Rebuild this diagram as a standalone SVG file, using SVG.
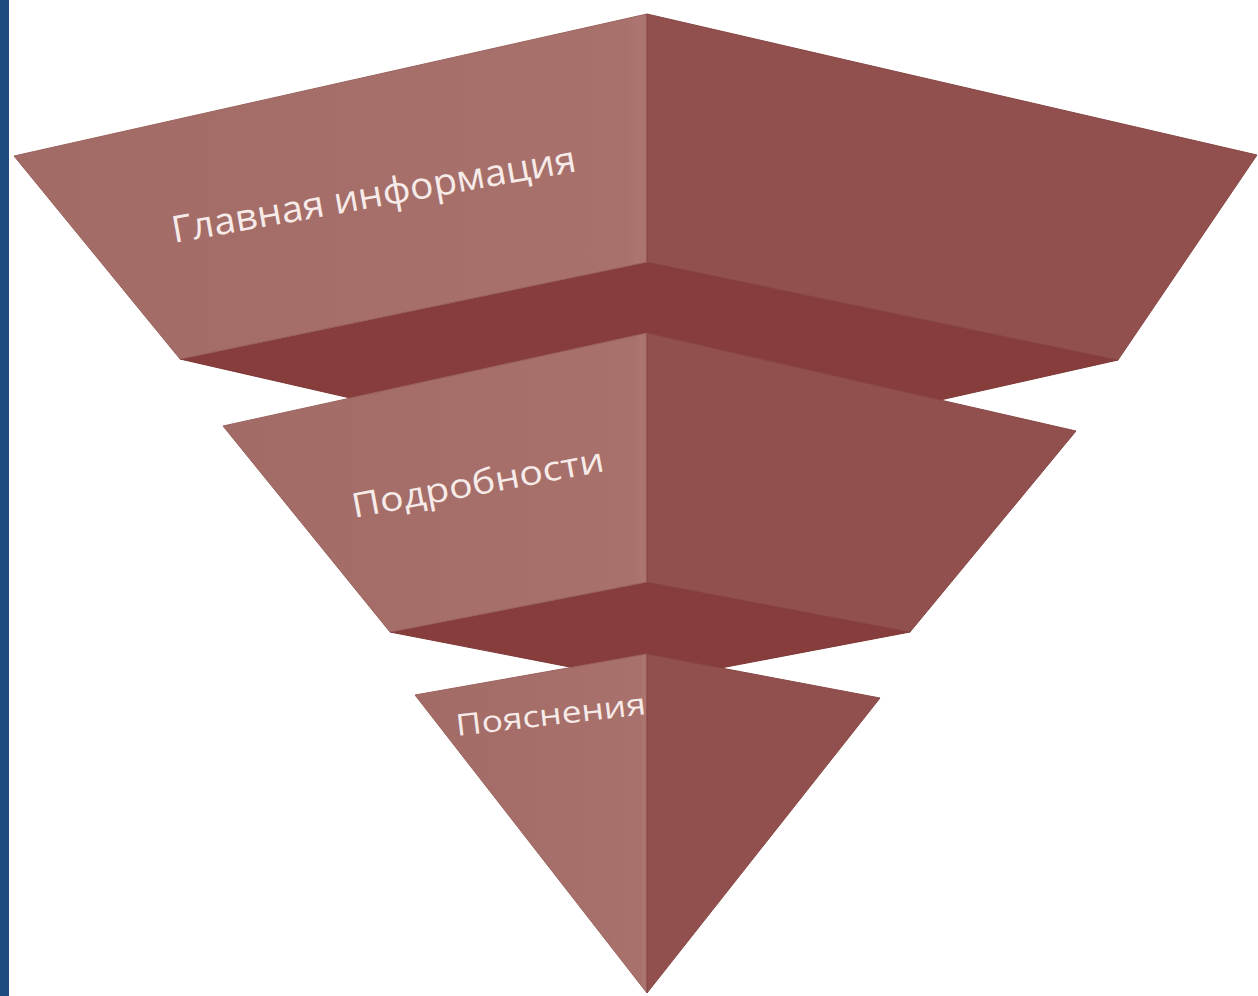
<svg xmlns="http://www.w3.org/2000/svg" width="1258" height="996" viewBox="0 0 1258 996">
  <defs>
    <style>
      .lf { fill: url(#lg); stroke: #9a625d; stroke-width: 1; stroke-linejoin: round; }
      .rf { fill: #91504d; stroke: #874744; stroke-width: 1; stroke-linejoin: round; }
      .db { fill: #873d3b; stroke: #7d3735; stroke-width: 1; stroke-linejoin: round; }
      .lbl { font-family: "Open Sans", "Noto Sans", "DejaVu Sans", sans-serif; fill: #f7ebe9; }
    </style>
    <linearGradient id="lg" x1="0" y1="0" x2="1" y2="0">
      <stop offset="0" stop-color="#a26b65"/>
      <stop offset="0.97" stop-color="#a8716b"/>
      <stop offset="0.985" stop-color="#ac756f"/>
      <stop offset="1" stop-color="#aa736d"/>
    </linearGradient>
  </defs>
  <rect x="0" y="0" width="1258" height="996" fill="#ffffff"/>
  <rect x="0" y="0" width="9" height="996" fill="#1d4a7f"/>

  <g id="connectors"></g>

  <g id="tier3">
    <polygon class="db" points="390,632 647,582 910,632 647,682"/>
    <polygon class="lf" points="415,695 647,654 647,993"/>
    <polygon class="rf" points="647,654 880,698 647,993"/>
    <text class="lbl" font-size="30" transform="translate(457,736) rotate(-6.6)" textLength="191" lengthAdjust="spacingAndGlyphs">Пояснения</text>
  </g>

  <g id="tier2">
    <polygon class="db" points="180,359 647,262 1118,360 647,466"/>
    <polygon class="lf" points="223,426 647,333 647,582 390,632"/>
    <polygon class="rf" points="647,333 1076,431 910,632 647,582"/>
    <text class="lbl" font-size="34" transform="translate(354,518) rotate(-10.6)" textLength="256" lengthAdjust="spacingAndGlyphs">Подробности</text>
  </g>

  <g id="tier1">
    <polygon class="lf" points="14,156 647,14 647,262 180,359"/>
    <polygon class="rf" points="647,14 1257,155 1118,360 647,262"/>
    <text class="lbl" font-size="37" transform="translate(174,243) rotate(-10.1)" textLength="410" lengthAdjust="spacingAndGlyphs">Главная информация</text>
  </g>
</svg>
